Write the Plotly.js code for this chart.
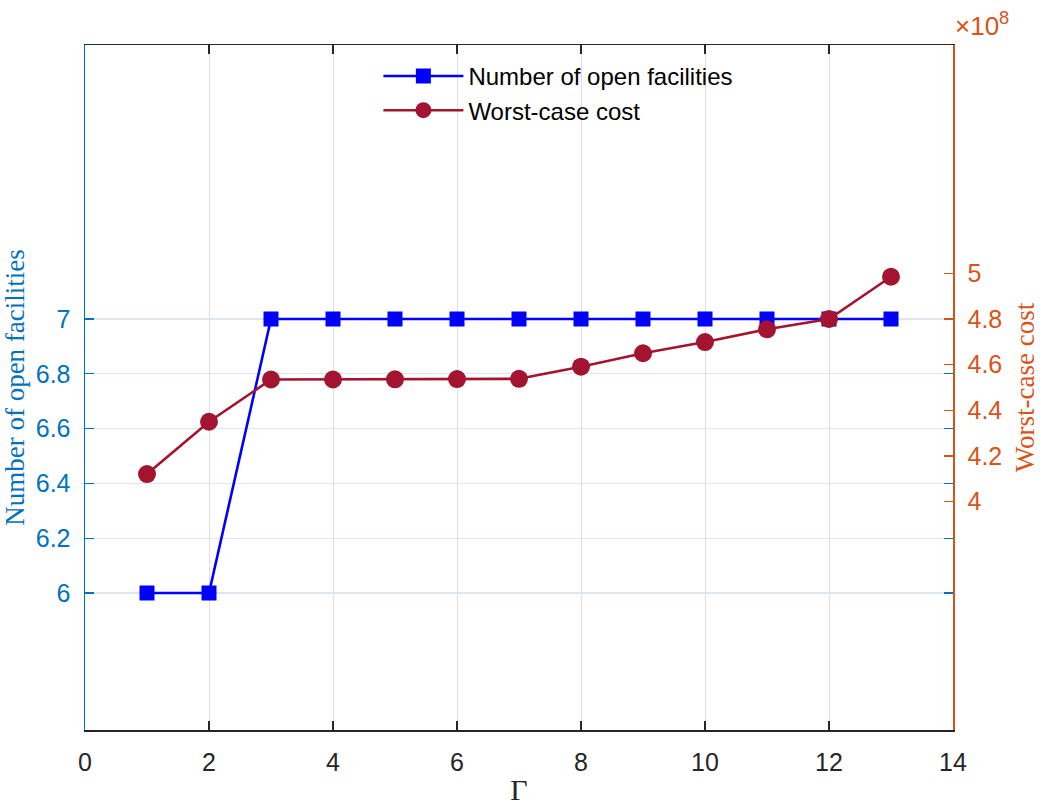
<!DOCTYPE html>
<html>
<head>
<meta charset="utf-8">
<script src="https://cdn.plot.ly/plotly-3.0.1.min.js"></script>
<style>html,body{margin:0;padding:0;background:#fff;}#chart{width:1040px;height:810px;}</style>
</head>
<body>
<div id="chart"></div>
<script>
// Data
const gamma = [1, 2, 3, 4, 5, 6, 7, 8, 9, 10, 11, 12, 13];
const openFacilities = [6, 6, 7, 7, 7, 7, 7, 7, 7, 7, 7, 7, 7];
const worstCaseCost = [4.121e8, 4.350e8, 4.535e8, 4.535e8, 4.536e8, 4.537e8, 4.538e8, 4.591e8, 4.650e8, 4.699e8, 4.755e8, 4.800e8, 4.985e8];
const xTicks = [0, 2, 4, 6, 8, 10, 12, 14];
const leftTicks = [6, 6.2, 6.4, 6.6, 6.8, 7];
const leftTickText = ['6', '6.2', '6.4', '6.6', '6.8', '7'];
const rightTicks = [4e8, 4.2e8, 4.4e8, 4.6e8, 4.8e8, 5e8];
const rightTickText = ['4', '4.2', '4.4', '4.6', '4.8', '5'];

const BLUE_AX = '#0072BD';
const ORANGE_AX = '#D95319';
const DARK = '#262626';

const traces = [
  {
    x: gamma, y: openFacilities, type: 'scatter', mode: 'lines+markers',
    name: 'Number of open facilities',
    line: {color: '#0000FF', width: 2.6},
    marker: {symbol: 'square', size: 15, color: '#0000FF'},
    xaxis: 'x', yaxis: 'y'
  },
  {
    x: gamma, y: worstCaseCost, type: 'scatter', mode: 'lines+markers',
    name: 'Worst-case cost',
    line: {color: '#A2142F', width: 2.6},
    marker: {symbol: 'circle', size: 18, color: '#A2142F'},
    xaxis: 'x', yaxis: 'y2'
  }
];

const tickFont = {family: 'Liberation Sans, Arial, sans-serif', size: 25};
const serif = 'Liberation Serif, Times New Roman, serif';

const layout = {
  width: 1040, height: 810,
  margin: {l: 85, r: 87, t: 45, b: 80},
  paper_bgcolor: '#ffffff', plot_bgcolor: '#ffffff',
  showlegend: true,
  legend: {
    x: 0.338, y: 0.987, xanchor: 'left', yanchor: 'top',
    bgcolor: 'rgba(0,0,0,0)', borderwidth: 0,
    font: {family: 'Liberation Sans, Arial, sans-serif', size: 24, color: '#000'},
    itemwidth: 80, tracegroupgap: 0
  },
  xaxis: {
    range: [0, 14], tickvals: xTicks, ticktext: xTicks.map(String),
    ticks: 'inside', ticklen: 9, tickwidth: 1.2, tickcolor: DARK,
    showline: true, linecolor: DARK, linewidth: 1.5, mirror: 'ticks',
    showgrid: true, gridcolor: '#dfdfdf', gridwidth: 1,
    zeroline: false, ticklabelstandoff: 9,
    tickfont: Object.assign({color: DARK}, tickFont),
    title: {text: 'Γ', font: {family: serif, size: 30, color: DARK}, standoff: 4}
  },
  yaxis: {
    range: [5.5, 8.0], tickvals: leftTicks, ticktext: leftTickText,
    ticks: 'inside', ticklen: 9, tickwidth: 1.2, tickcolor: BLUE_AX,
    showline: true, linecolor: BLUE_AX, linewidth: 1.5, mirror: 'ticks',
    showgrid: true, gridcolor: '#dbe8f2', gridwidth: 1.2,
    zeroline: false, ticklabelstandoff: 8,
    tickfont: Object.assign({color: BLUE_AX}, tickFont),
    title: {text: 'Number of open facilities', font: {family: serif, size: 27, color: BLUE_AX}, standoff: 6}
  },
  yaxis2: {
    overlaying: 'y', side: 'right',
    range: [3e8, 6e8], tickvals: rightTicks, ticktext: rightTickText,
    ticks: 'inside', ticklen: 9, tickwidth: 1.2, tickcolor: ORANGE_AX,
    showline: true, linecolor: ORANGE_AX, linewidth: 1.5,
    showgrid: false, zeroline: false, ticklabelstandoff: 8,
    tickfont: Object.assign({color: ORANGE_AX}, tickFont),
    title: {text: 'Worst-case cost', font: {family: serif, size: 27, color: ORANGE_AX}, standoff: 18}
  },
  annotations: [
    {
      xref: 'paper', yref: 'paper', x: 1.0, y: 1.0, xanchor: 'left', yanchor: 'bottom',
      xshift: 0, yshift: 2,
      text: '×10<sup>8</sup>', showarrow: false,
      font: {family: 'Liberation Sans, Arial, sans-serif', size: 26, color: ORANGE_AX}
    }
  ]
};

Plotly.newPlot('chart', traces, layout, {displayModeBar: false, staticPlot: true});
</script>
</body>
</html>
